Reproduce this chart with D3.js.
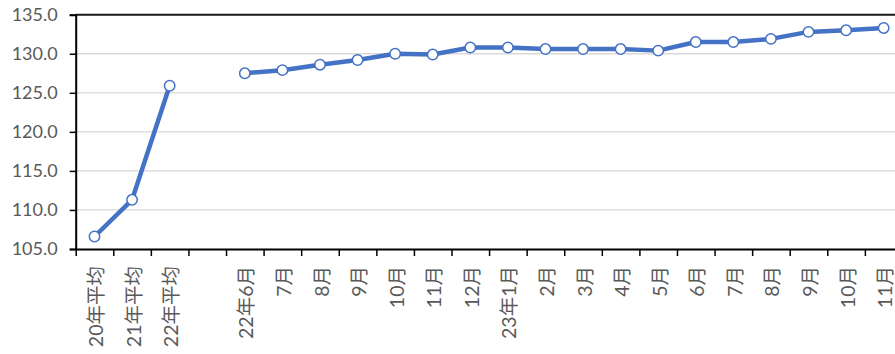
<!DOCTYPE html>
<html>
<head>
<meta charset="utf-8">
<script src="https://cdn.jsdelivr.net/npm/d3@7"></script>
<style>
  html, body { margin: 0; padding: 0; background: #fff; }
  svg { display: block; }
  text { font-family: "Lato", "Noto Sans CJK SC", sans-serif; fill: #595959; }
</style>
</head>
<body>
<svg id="chart" width="895" height="354"></svg>
<script>
// Index series: annual averages, a blank slot, then monthly readings
const categories = ["20年平均", "21年平均", "22年平均", "", "22年6月", "7月", "8月", "9月", "10月", "11月", "12月",
                    "23年1月", "2月", "3月", "4月", "5月", "6月", "7月", "8月", "9月", "10月", "11月"];
const values = [106.6, 111.3, 125.9, null, 127.5, 127.9, 128.6, 129.2, 130.0, 129.9, 130.8,
                130.8, 130.6, 130.6, 130.6, 130.4, 131.5, 131.5, 131.9, 132.8, 133.0, 133.3];
const yTicks = [105, 110, 115, 120, 125, 130, 135];

(function draw() {
  const svg = d3.select("#chart");
  const plotLeft = 75.7, bandW = 37.58;
  const plotRight = plotLeft + bandW * categories.length;
  const plotTop = 14.7, plotBottom = 249;

  const idx = d3.range(categories.length);
  const x = d3.scaleBand().domain(idx).range([plotLeft, plotRight]).paddingInner(0).paddingOuter(0);
  const xEdge = d3.scaleLinear().domain([0, categories.length]).range([plotLeft, plotRight]);
  const y = d3.scaleLinear().domain([105, 135]).range([plotBottom, plotTop]);

  // horizontal gridlines
  svg.append("g")
    .selectAll("line")
    .data(yTicks.slice(1))
    .join("line")
    .attr("x1", plotLeft).attr("x2", plotRight)
    .attr("y1", d => y(d)).attr("y2", d => y(d))
    .attr("stroke", "#d9d9d9").attr("stroke-width", 1.3);

  // top border of the plot area
  svg.append("line")
    .attr("x1", plotLeft).attr("x2", plotRight)
    .attr("y1", y(135)).attr("y2", y(135))
    .attr("stroke", "#1a1a1a").attr("stroke-width", 2);

  // y axis
  const yAxis = svg.append("g")
    .attr("transform", `translate(${plotLeft},0)`)
    .call(d3.axisLeft(y).tickValues(yTicks).tickFormat(d3.format(".1f")).tickSize(6).tickPadding(12));
  yAxis.select(".domain").attr("stroke", "#000").attr("stroke-width", 2);
  yAxis.selectAll(".tick line").attr("stroke", "#000").attr("stroke-width", 1.5);
  yAxis.selectAll(".tick text")
    .attr("font-size", 18).attr("fill", "#595959")
    .style("font-family", "Lato, sans-serif");

  // x axis: ticks at category boundaries
  const xAxis = svg.append("g")
    .attr("transform", `translate(0,${plotBottom})`)
    .call(d3.axisBottom(xEdge).tickValues(d3.range(categories.length + 1)).tickFormat("").tickSize(7).tickSizeOuter(0));
  xAxis.select(".domain").attr("stroke", "#000").attr("stroke-width", 2);
  xAxis.selectAll(".tick line").attr("stroke", "#000").attr("stroke-width", 1.5);

  // rotated category labels
  svg.append("g")
    .selectAll("text")
    .data(idx.filter(i => categories[i] !== ""))
    .join("text")
    .attr("transform", i => `translate(${x(i) + x.bandwidth() / 2 + 1.5},${plotBottom + 17}) rotate(-90)`)
    .attr("text-anchor", "end")
    .attr("dy", "0.36em")
    .attr("font-size", 19.5)
    .text(i => categories[i]);

  // series line, broken at the blank slot
  const line = d3.line()
    .defined(i => values[i] != null)
    .x(i => x(i) + x.bandwidth() / 2)
    .y(i => y(values[i]));

  svg.append("path")
    .datum(idx)
    .attr("d", line)
    .attr("fill", "none")
    .attr("stroke", "#4472C4")
    .attr("stroke-width", 4.5)
    .attr("stroke-linejoin", "round");

  svg.append("g")
    .selectAll("circle")
    .data(idx.filter(i => values[i] != null))
    .join("circle")
    .attr("cx", i => x(i) + x.bandwidth() / 2)
    .attr("cy", i => y(values[i]))
    .attr("r", 5.2)
    .attr("fill", "#fff")
    .attr("stroke", "#4472C4")
    .attr("stroke-width", 1.5);
})();
</script>
</body>
</html>
